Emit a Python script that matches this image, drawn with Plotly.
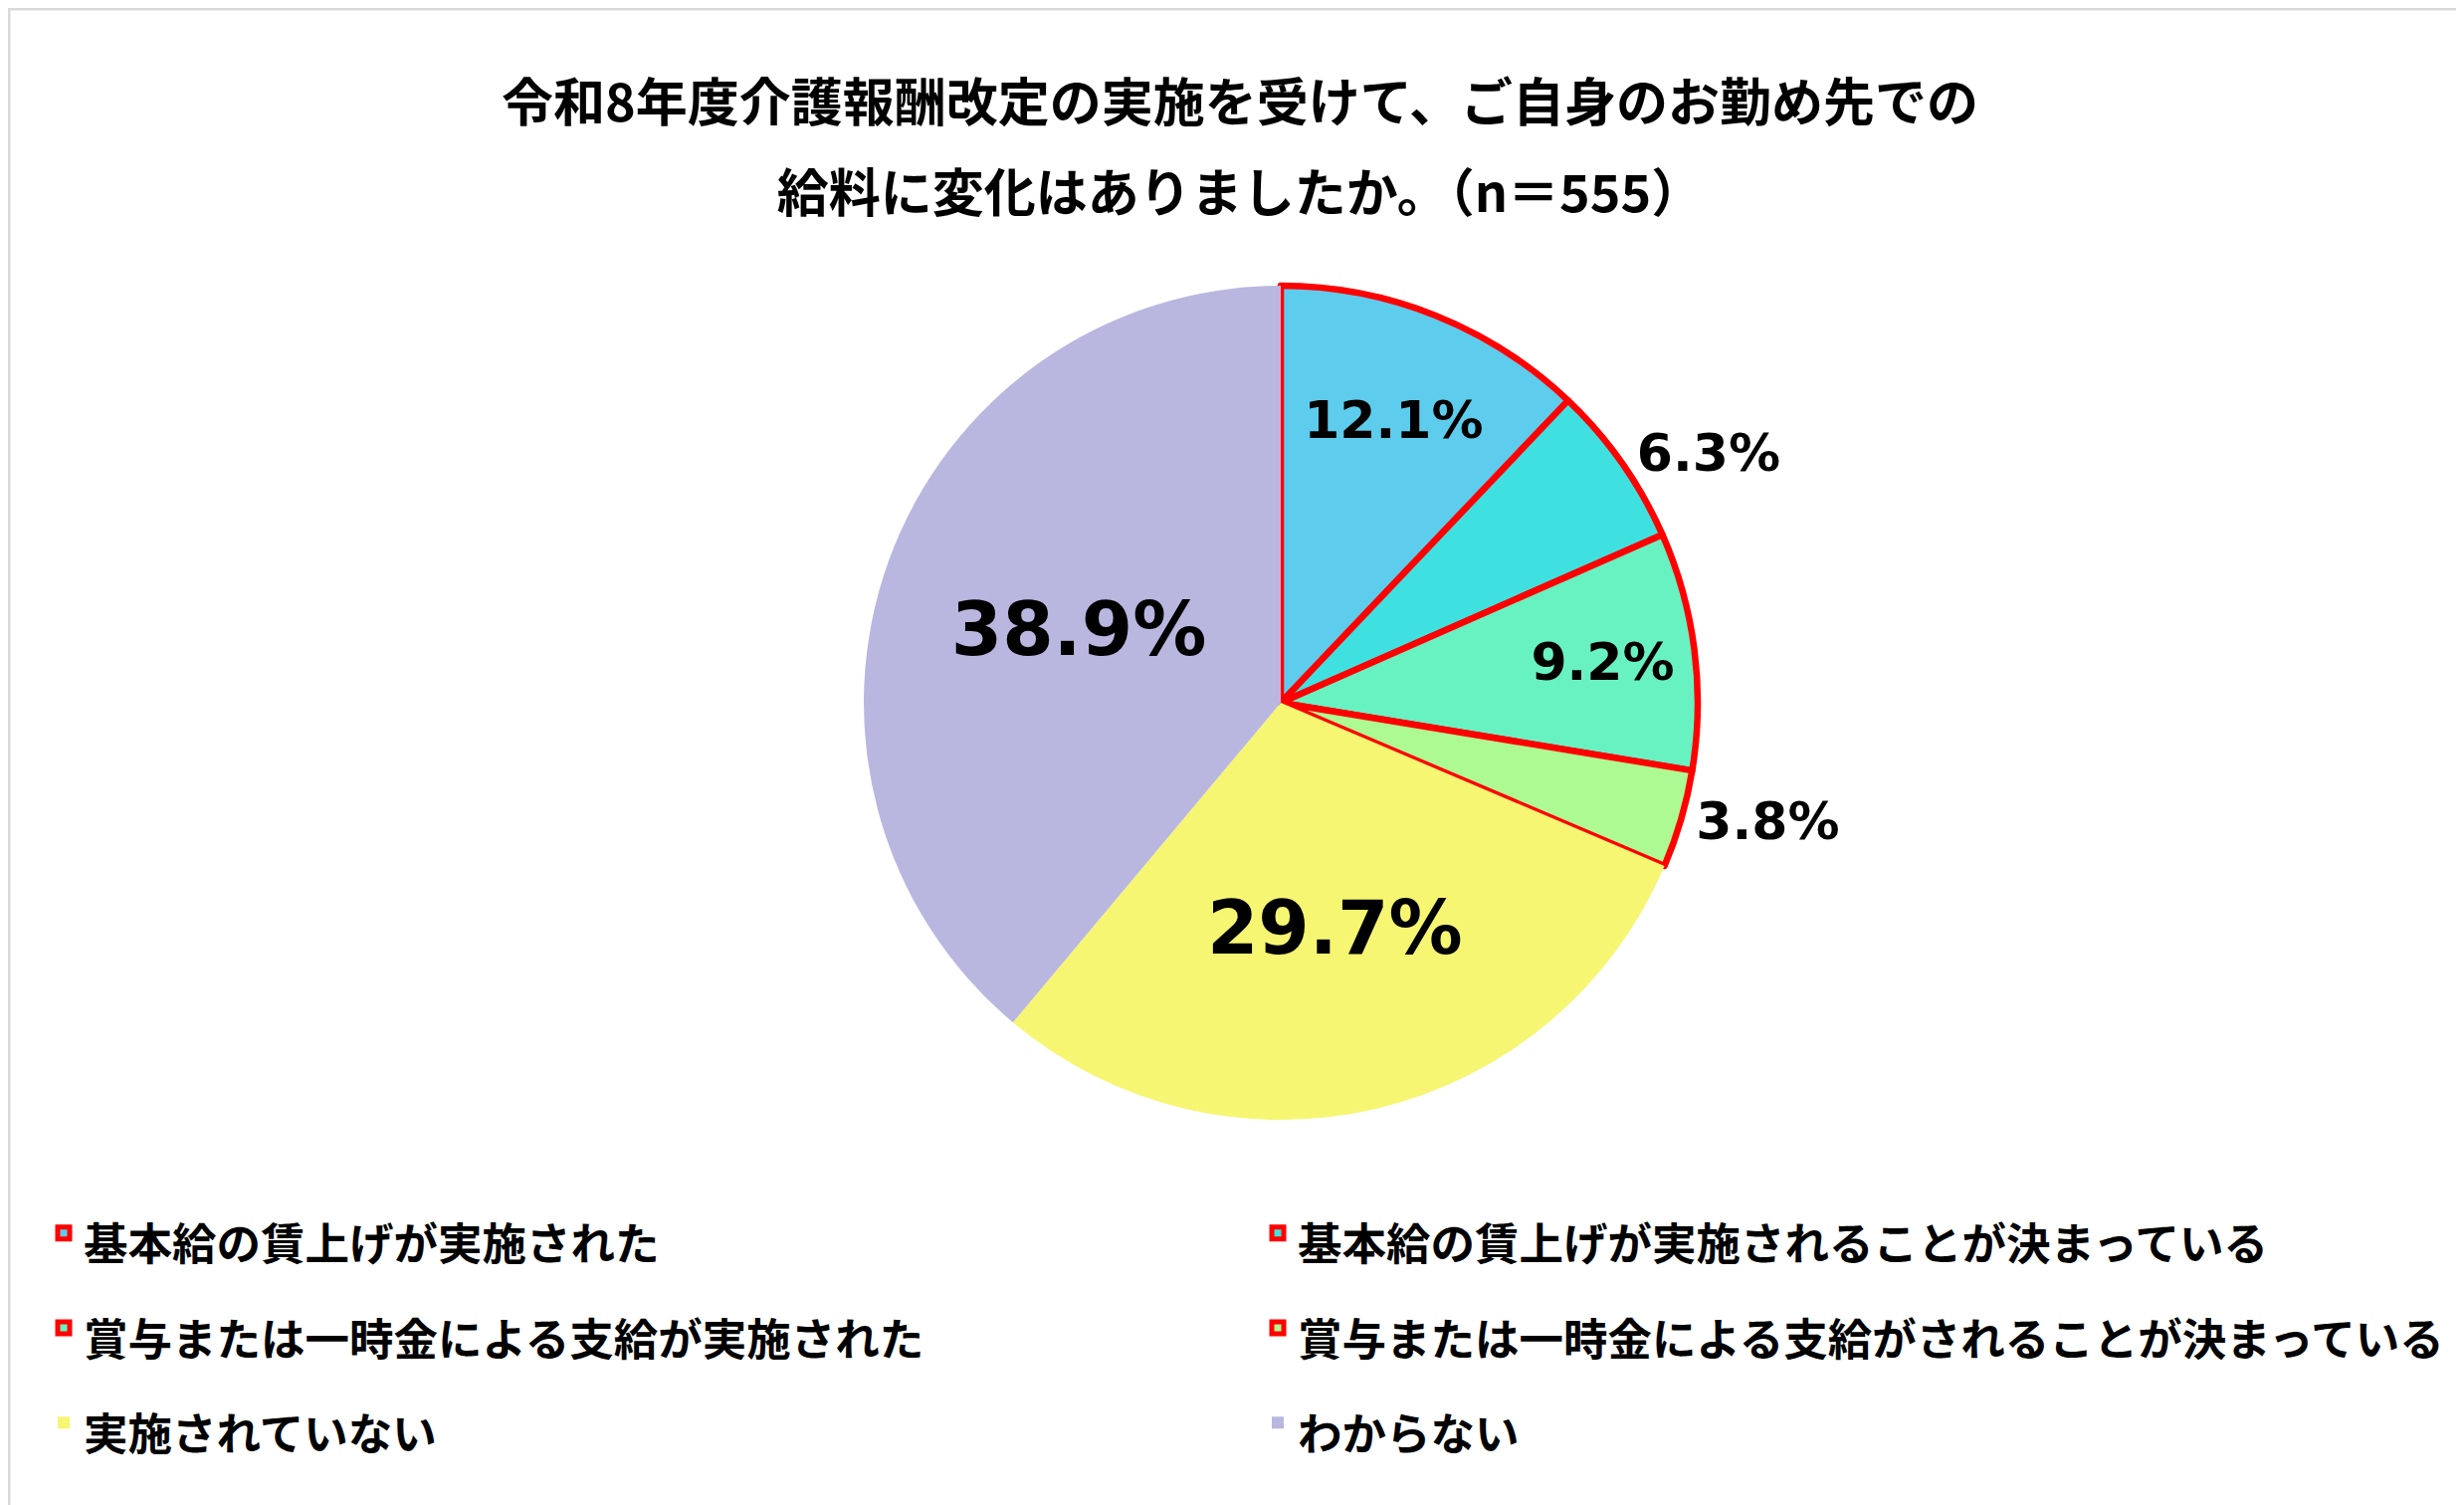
import plotly.graph_objects as go

title_lines = ["令和8年度介護報酬改定の実施を受けて、ご自身のお勤め先での",
               "給料に変化はありましたか。（n＝555）"]
categories = ["基本給の賃上げが実施された",
              "基本給の賃上げが実施されることが決まっている",
              "賞与または一時金による支給が実施された",
              "賞与または一時金による支給がされることが決まっている",
              "実施されていない",
              "わからない"]
values = [12.1, 6.3, 9.2, 3.8, 29.7, 38.9]
colors = ["#5ECCEC", "#3FE1E0", "#68F2C2", "#ADF992", "#F6F672", "#B9B7E0"]
line_colors = ["#FF0000", "#FF0000", "#FF0000", "#FF0000", "#F6F672", "#B9B7E0"]
line_widths = [6.5, 6.5, 6.5, 6.5, 0, 0]
text_positions = ["inside", "outside", "inside", "outside", "inside", "inside"]
text_sizes = [52, 52, 52, 52, 74, 74]

W, H = 2476, 1512
CX, CY, R = 1279, 698, 419

fig = go.Figure()
fig.add_trace(go.Pie(
    labels=["<span style='font-size:44.5px'>" + c + "</span>" for c in categories],
    values=values,
    sort=False,
    direction="clockwise",
    rotation=0,
    marker=dict(colors=colors, line=dict(color=line_colors, width=line_widths)),
    texttemplate="%{value:.1f}%",
    textposition=text_positions,
    insidetextorientation="horizontal",
    textfont=dict(family="DejaVu Sans", size=text_sizes, color="black", weight="bold"),
    hoverinfo="label+value",
    domain=dict(x=[(CX - R) / W, (CX + R) / W],
                y=[(H - CY - R) / H, (H - CY + R) / H]),
    showlegend=True,
))

fig.update_layout(
    width=W, height=H,
    margin=dict(l=0, r=0, t=0, b=0),
    paper_bgcolor="white",
    plot_bgcolor="white",
    title=dict(
        text="<span style='font-size:52px'>" + title_lines[0] + "</span><br>"
             "<span style='font-size:52px'>" + title_lines[1] + "</span>",
        x=0.5, xanchor="center",
        y=1 - 114 / H, yanchor="middle",
        font=dict(family="Noto Sans CJK JP", size=70, color="black", weight="bold"),
    ),
    legend=dict(
        orientation="h",
        x=44 / W, xanchor="left",
        y=1 - 1178 / H, yanchor="top",
        entrywidth=1175, entrywidthmode="pixels",
        font=dict(family="Noto Sans CJK JP", size=71, color="black", weight="bold"),
        traceorder="normal",
    ),
    shapes=[dict(type="rect", xref="paper", yref="paper", x0=0, x1=1, y0=0, y1=1,
                 line=dict(color="#D9D9D9", width=5), fillcolor="rgba(0,0,0,0)")],
)

fig.write_html("out.html")
